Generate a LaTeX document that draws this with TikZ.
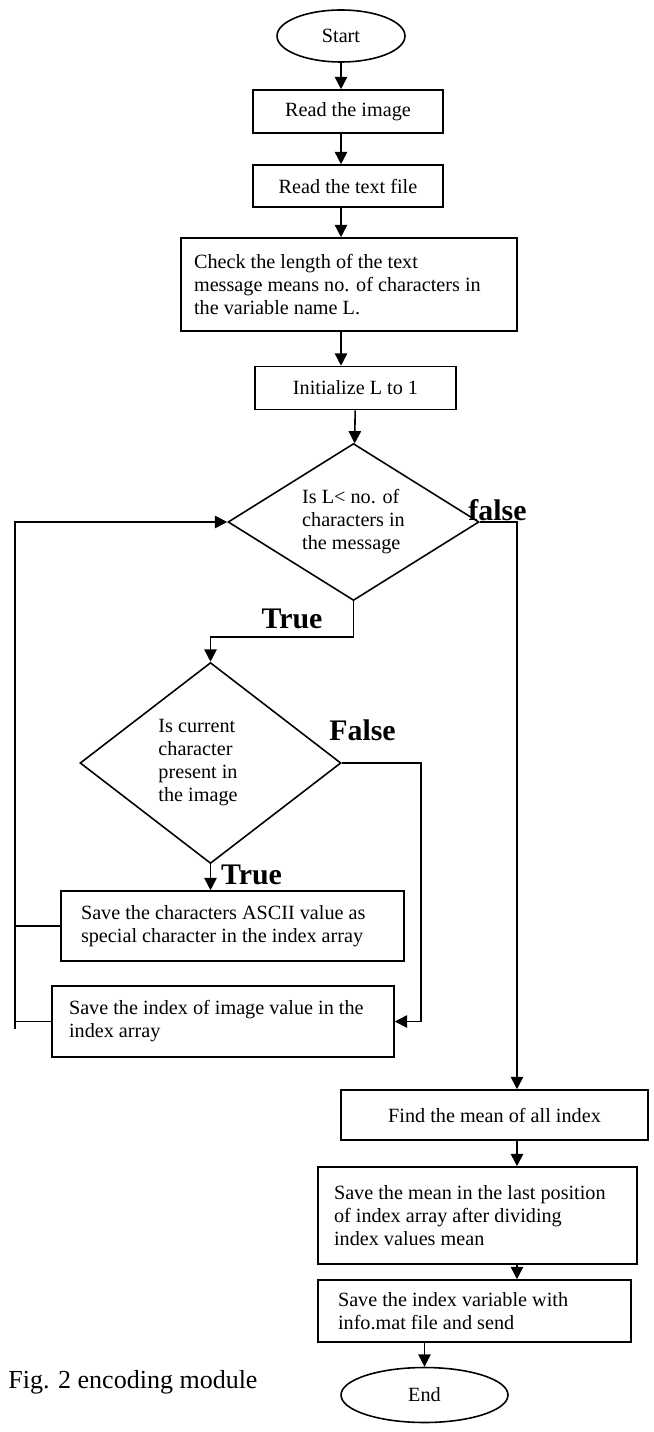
\documentclass[tikz,border=0pt]{standalone}
\usepackage{fontspec}
\setmainfont{Liberation Serif}
\usetikzlibrary{arrows.meta,shapes.geometric,positioning}

\begin{document}
\begin{tikzpicture}[
        x=0.02cm, y=-0.02cm,
        every node/.style={font=\fontsize{11.5}{13.1}\selectfont},
        terminal/.style={ellipse, draw, line width=0.9pt, inner sep=0pt},
        process/.style={rectangle, draw, line width=0.9pt, align=center, inner sep=0pt},
        textbox/.style={rectangle, draw, line width=0.9pt, align=flush left, inner ysep=0pt},
        decision/.style={diamond, draw, line width=0.9pt, align=flush left, inner sep=0pt, aspect=1.6},
        answer/.style={font=\fontsize{17}{20}\selectfont\bfseries, inner sep=0pt, anchor=base},
        line/.style={draw, line width=0.9pt, -{Triangle[length=7pt,width=7pt]}}
    ]
    \useasboundingbox (0,0) rectangle (653,1432);

    % main column
    \node [terminal, minimum width=2.56cm, minimum height=1.04cm] (start) at (341,36) {Start};
    \node [process, minimum width=3.8cm, minimum height=0.86cm] (read1) at (348,111.5) {Read the image};
    \node [process, minimum width=3.8cm, minimum height=0.84cm] (read2) at (348,186) {Read the text file};
    \node [textbox, text width=6.2cm, inner xsep=0.26cm, minimum height=1.86cm] (check) at (349,284.5)
        {Check the length of the text\\message means no. of characters in\\the variable name L.};
    \node [process, minimum width=4.02cm, minimum height=0.86cm] (init) at (355.5,388) {Initialize L to 1};
    \node [decision, minimum width=5.02cm, minimum height=3.14cm] (cond1) at (353.5,522)
        {Is L< no. of\\characters in\\the message};

    % inner loop
    \node [decision, minimum width=5.22cm, minimum height=4.02cm] (cond2) at (210.5,763)
        {Is current\\character\\present in\\the image\hspace*{0.5cm}};
    \node [textbox, text width=6.06cm, inner xsep=0.4cm, minimum height=1.4cm] (ascii) at (232.5,926)
        {Save the characters ASCII value as\\special character in the index array};
    \node [textbox, text width=6.16cm, inner xsep=0.34cm, minimum height=1.42cm] (index) at (223,1021.5)
        {Save the index of image value in the\\index array};

    % after the loop
    \node [process, minimum width=6.14cm, minimum height=1.0cm] (mean) at (494.5,1115) {Find the mean of all index};
    \node [textbox, text width=5.74cm, inner xsep=0.32cm, minimum height=1.94cm] (store) at (477.5,1215.5)
        {Save the mean in the last position\\of index array after dividing\\index values mean};
    \node [textbox, text width=5.46cm, inner xsep=0.4cm, minimum height=1.24cm] (send) at (474.5,1311)
        {Save the index variable with\\info.mat file and send};
    \node [terminal, minimum width=3.34cm, minimum height=1.1cm] (end) at (424.5,1395) {End};

    \coordinate (loop) at (15,1029);

    \draw [line] (start) -- (start |- read1.north);
    \draw [line] (read1.south -| start) -- (read2.north -| start);
    \draw [line] (read2.south -| start) -- (check.north -| start);
    \draw [line] (check.south -| start) -- (init.north -| start);
    \draw [line] (init) -- (cond1);
    \draw [line] (cond1.east) -| ([xshift=0.45cm]mean.north);
    \draw [line] (cond1.south) -- ++(0,-0.72cm) -| (cond2.north);
    \draw [line] (cond2.south) -- (cond2.south |- ascii.north);
    \draw [line] (cond2.east) -- ++(1.58cm,0) |- (index.east);
    \draw [line] (loop) |- (cond1.west);
    \draw [line width=0.9pt] (ascii.west) -- (ascii.west -| loop);
    \draw [line width=0.9pt] (index.west) -- (index.west -| loop);
    \draw [line] ([xshift=0.45cm]mean.south) -- ([xshift=0.45cm]mean.south |- store.north);
    \draw [line] ([xshift=0.79cm]store.south) -- ([xshift=0.79cm]store.south |- send.north);
    \draw [line] (send.south -| end) -- (end);

    % Labels
    \node [answer] (no1) at (497.5,520) {false};
    \node [answer] (yes1) at (292,628) {True};
    \node [answer] (no2) at (362.5,740) {False};
    \node [answer] (yes2) at (251.5,884) {True};
    \node [anchor=base west, font=\fontsize{14.8}{17}\selectfont, inner sep=0pt] (caption) at (8,1388) {Fig. 2 encoding module};
\end{tikzpicture}
\end{document}
